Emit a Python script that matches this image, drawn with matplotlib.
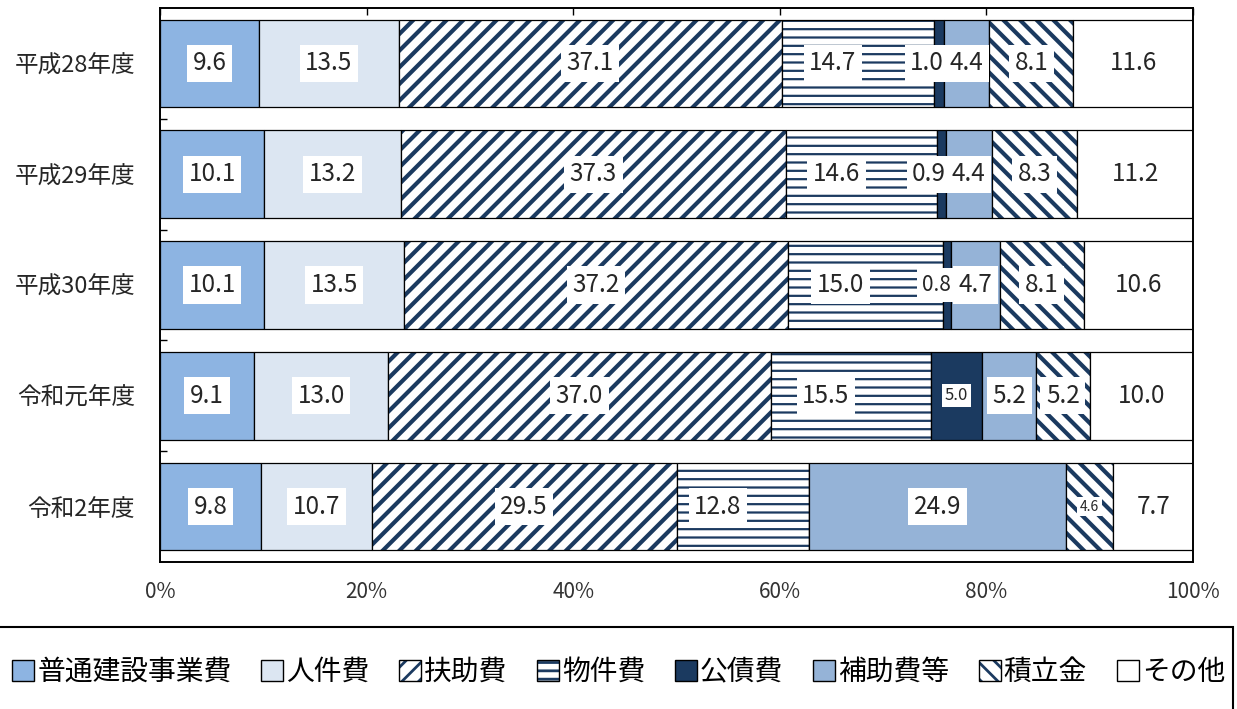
import numpy as np
import matplotlib
matplotlib.use("Agg")
import matplotlib.pyplot as plt
from matplotlib.patches import Patch, Rectangle

plt.rcParams['font.family'] = ['Noto Sans CJK JP', 'DejaVu Sans']

# data (percent of total expenditure)
categories = ['平成28年度', '平成29年度', '平成30年度', '令和元年度', '令和2年度']
series_names = ['普通建設事業費', '人件費', '扶助費', '物件費', '公債費', '補助費等', '積立金', 'その他']
futsu = [9.6, 10.1, 10.1, 9.1, 9.8]
jinken = [13.5, 13.2, 13.5, 13.0, 10.7]
fujo = [37.1, 37.3, 37.2, 37.0, 29.5]
bukken = [14.7, 14.6, 15.0, 15.5, 12.8]
kosai = [1.0, 0.9, 0.8, 5.0, 0.0]
hojo = [4.4, 4.4, 4.7, 5.2, 24.9]
tsumitate = [8.1, 8.3, 8.1, 5.2, 4.6]
sonota = [11.6, 11.2, 10.6, 10.0, 7.7]
xtick_labels = ['0%', '20%', '40%', '60%', '80%', '100%']

# styles
navy = '#1B3A60'
fills = ['#8DB4E2', '#DCE6F2', 'white', 'white', '#1B3A60', '#95B3D7', 'white', 'white']
hatches = [None, None, '//', '--', None, None, '\\\\', None]
hatch_lw = {2: 3.0, 3: 1.6, 6: 3.0}
label_size = {(3, 4): 12, (4, 6): 10, (2, 4): 15}


def hatched(make, lw):
    with plt.rc_context({'hatch.linewidth': lw}):
        out = make()
    items = out if isinstance(out, (list, tuple)) or hasattr(out, 'patches') else [out]
    for p in items:
        if hasattr(p, 'set_hatch_linewidth'):
            p.set_hatch_linewidth(lw)
    return out


data = np.array([futsu, jinken, fujo, bukken, kosai, hojo, tsumitate, sonota])
y = np.arange(len(categories))
bar_h = 0.79

fig = plt.figure(figsize=(12.37, 7.09), dpi=100)
ax = fig.add_axes([160/1237, 1-562/709, 1033/1237, 554/709])

left = np.zeros(len(categories))
handles = []
for i, name in enumerate(series_names):
    vals = data[i]
    if hatches[i]:
        hatched(lambda: ax.barh(y, vals, left=left, height=bar_h, color=fills[i],
                                hatch=hatches[i], edgecolor=navy, linewidth=0), hatch_lw[i])
        ax.barh(y, vals, left=left, height=bar_h, fill=False, edgecolor='black', linewidth=0.9)
        hp = Patch(facecolor=fills[i], hatch=hatches[i], edgecolor=navy, linewidth=0)
        handles.append((hp, Patch(fill=False, edgecolor='black', linewidth=1)))
    else:
        ax.barh(y, vals, left=left, height=bar_h, color=fills[i], edgecolor='black', linewidth=0.9)
        handles.append(Patch(facecolor=fills[i], edgecolor='black', linewidth=1))
    for j, v in enumerate(vals):
        if v <= 0:
            continue
        fs = label_size.get((j, i), 17.5)
        if i == 4 and v < 2:
            # tiny segments: label sits just left of the segment end
            tx, ha = left[j] + v, 'right'
        elif i == 3:
            tx, ha = left[j] + v/2 - 2.4, 'center'
        else:
            tx, ha = left[j] + v/2, 'center'
        ax.text(tx, y[j], f'{v:.1f}', ha=ha, va='center', fontsize=fs, color='#262626',
                bbox=dict(facecolor='white', edgecolor='none', pad=4 if fs > 12 else 2))
    left += vals

ax.set_xlim(0, 100)
ax.set_ylim(len(categories)-0.5, -0.5)
ax.set_xticks(np.linspace(0, 100, 6))
ax.set_xticklabels(xtick_labels, fontsize=15, color='#333333')
ax.tick_params(axis='x', top=True, bottom=False, direction='in', length=5, width=1,
               labeltop=False, labelbottom=True, pad=14)
ax.set_yticks(y)
ax.set_yticklabels(categories, fontsize=17, color='#262626')
ax.set_yticks(y[:-1] + 0.5, minor=True)
ax.tick_params(axis='y', which='major', length=0, pad=18)
ax.tick_params(axis='y', which='minor', direction='in', length=5, width=1)
for s in ax.spines.values():
    s.set_linewidth(1.4)
    s.set_color('black')

# legend box along the bottom
fig.patches.append(Rectangle((-0.01, -0.05), 1.007, 0.1657, transform=fig.transFigure,
                             facecolor='none', edgecolor='black', linewidth=1.5))
with plt.rc_context({'hatch.linewidth': 2.0}):
    fig.legend(handles, series_names, loc='center', bbox_to_anchor=(0.5, 0.052), ncol=8,
               frameon=False, fontsize=20, handlelength=0.8, handleheight=0.8,
               handletextpad=0.1, columnspacing=1.07)

fig.savefig('out.png', dpi=100)
